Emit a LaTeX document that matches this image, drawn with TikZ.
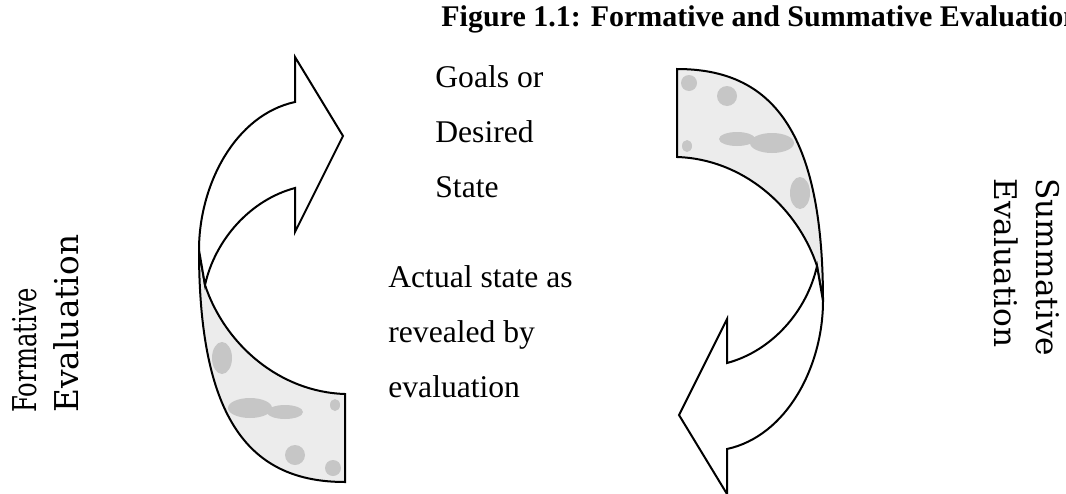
\documentclass[tikz,border=0pt]{standalone}
\usepackage{fontspec}
\setmainfont{Liberation Serif}
\newfontfamily\labelfont{DejaVu Serif}

\tikzset{
  face/.style={draw=black, line width=1pt, line join=miter, fill=white},
  backface/.style={draw=black, line width=1pt},
  blot/.style={fill=gray!45, draw=none},
  textlines/.style={anchor=base west, inner sep=0pt, align=left, font=\fontsize{15.8}{27.5}\selectfont},
  sidelabel/.style={inner sep=0pt, align=left, font=\labelfont\fontsize{16.4}{21}\selectfont}
}

% the band behind the turn, left as a path so it can be filled, clipped and drawn
\newcommand{\backband}{(205,285) .. controls (225,345) and (280,392) .. (345,394)
      -- (345,482) .. controls (250,482) and (199,420) .. (199,250) -- cycle}

% one curved arrow, head at the top right
\newcommand{\turnarrow}{%
  % back of the band, shaded
  \fill[gray!15] \backband;
  \begin{scope}
    \clip \backband;
    \fill[blot] (222,358) ellipse (10 and 16);
    \fill[blot] (250,408) ellipse (22 and 10);
    \fill[blot] (285,412) ellipse (18 and 7);
    \fill[blot] (295,455) ellipse (10 and 10);
    \fill[blot] (333,468) ellipse (8 and 8);
    \fill[blot] (335,405) ellipse (5 and 6);
  \end{scope}
  \draw[backface] \backband;
  % front of the band with the head
  \draw[face] (205,285) .. controls (215,240) and (250,200) .. (295,188)
      -- (295,232) -- (343,136) -- (295,57) -- (295,102)
      .. controls (235,115) and (199,185) .. (199,250) -- cycle;
}

\begin{document}
\begin{tikzpicture}[x=0.5pt, y=-0.5pt]
    \path[use as bounding box, fill=white] (0,0) rectangle (1066,493);
    % Formative side: arrow going up
        \turnarrow
    % Summative side: same arrow turned round
        \begin{scope}[rotate around={180:(511,275.5)}]
            \turnarrow
        \end{scope}
    % Below nodes are the labels (base = last line).
        \node[anchor=base west, inner sep=0pt, font=\bfseries\fontsize{15}{17}\selectfont] (title) at (441,26) {Figure 1.1: Formative and Summative Evaluation};
        \node[textlines] (goals) at (435,197) {Goals or\\Desired\\State};
        \node[textlines] (actual) at (388,397) {Actual state as\\revealed by\\evaluation};
        \node[sidelabel, rotate=90, anchor=north west] (formative) at (12,413) {\scalebox{0.74}[1]{Formative}\\Evaluation};
        \node[sidelabel, rotate=-90, anchor=north west, font=\labelfont\fontsize{15.6}{21}\selectfont] (summative) at (1060,178) {Summative\\Evaluation};
\end{tikzpicture}
\end{document}
